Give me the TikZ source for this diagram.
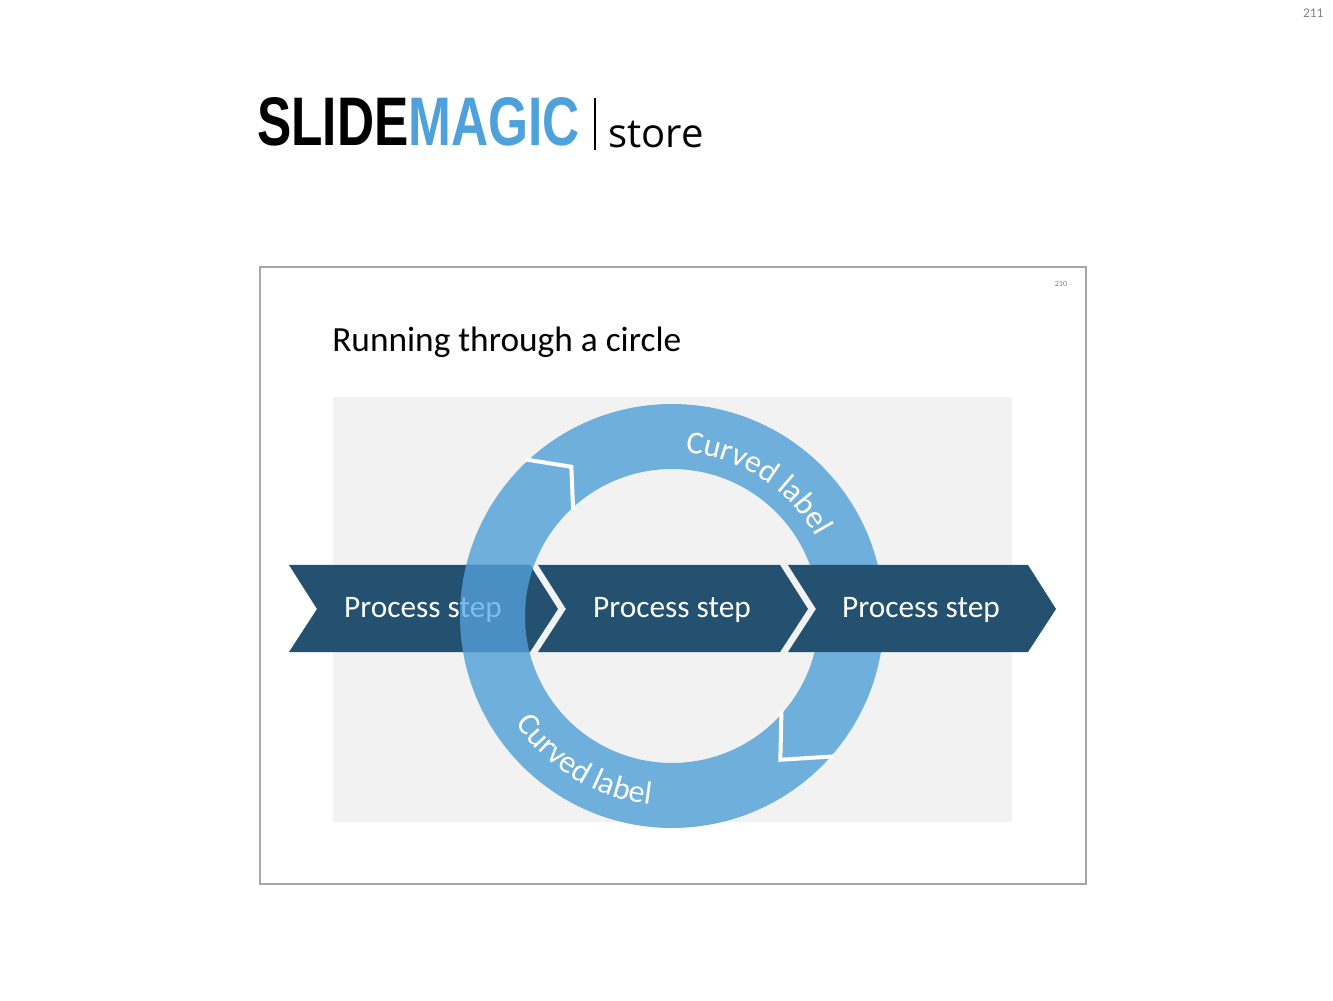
\documentclass[tikz,border=0pt]{standalone}
\usepackage{fontspec}
\setmainfont{Carlito}
\newfontfamily\logofont{Liberation Sans}
\newfontfamily\storefont{Open Sans}
\usetikzlibrary{decorations.text}
\definecolor{ring}{HTML}{6FAFDC}
\definecolor{ringover}{HTML}{57A5E0}
\definecolor{chev}{HTML}{245170}
\definecolor{logoblue}{HTML}{4EA1DB}
\definecolor{bggray}{HTML}{F2F2F2}
\definecolor{framegray}{HTML}{A6A6A6}
\newcommand{\curvefont}{\fontsize{24}{26}\selectfont}
\begin{document}
\begin{tikzpicture}[x=0.75pt,y=0.75pt,
  chevbox/.style={fill=chev},
  ringarrow/.style={fill=ring},
  gapline/.style={draw=white,line width=3pt,line join=miter},
  steplabel/.style={text=white,font=\fontsize{23.5}{26}\selectfont}]
\useasboundingbox (0,0) rectangle (1333,1000);
\fill[white] (0,0) rectangle (1333,1000);
% page number
\node[anchor=north east,text=gray,font=\fontsize{10}{12}\selectfont] (pg) at (1328,996) {211};
% logo
\node[anchor=south west,inner sep=0] (logo) at (257,854)
  {\resizebox{242pt}{36pt}{\logofont\bfseries SLIDE\textcolor{logoblue}{MAGIC}}};
\draw[line width=1.5pt] (595,850) -- (595,902);
\node[anchor=base west,inner sep=0,font=\storefont\fontsize{30}{32}\selectfont] (store) at (608,852) {store};
% slide frame
\draw[framegray,line width=1pt] (260,116) rectangle (1086,733);
\node[text=gray,font=\fontsize{6}{7}\selectfont] (pg2) at (1061,716) {210};
\node[anchor=base west,inner sep=0,font=\fontsize{26.5}{30}\selectfont] (title) at (332,648) {Running through a circle};
\fill[bggray] (333,178) rectangle (1012,603);
% ring arrows
\begin{scope}[shift={(672,384)}]
\path[ringarrow] (124:180) -- (133:212) arc[start angle=133,end angle=-41,radius=212]
  -- (-53:180) -- (-41:147) arc[start angle=-41,end angle=133,radius=147] -- cycle;
\path[ringarrow] (-53:180) -- (-41:212) arc[start angle=-41,end angle=-227,radius=212]
  -- (-236:180) -- (-227:147) arc[start angle=-227,end angle=-41,radius=147] -- cycle;
\draw[gapline] (133:214) -- (124:180) -- (133:145);
\draw[gapline] (-41:214) -- (-53:180) -- (-41:145);
\end{scope}
% chevrons
\fill[chevbox] (289,435) -- (530,435) -- (558,391) -- (530,348) -- (289,348) -- (317,391) -- cycle;
\fill[chevbox] (538,435) -- (780,435) -- (808,391) -- (780,348) -- (538,348) -- (566,391) -- cycle;
\fill[chevbox] (788,435) -- (1028,435) -- (1056,391) -- (1028,348) -- (788,348) -- (816,391) -- cycle;
\node[steplabel] (s1) at (423,390) {Process step};
\node[steplabel] (s2) at (672,390) {Process step};
\node[steplabel] (s3) at (921,390) {Process step};
% overlap of lower ring arrow over first chevron
\begin{scope}
\clip (289,435) -- (530,435) -- (558,391) -- (530,348) -- (289,348) -- (317,391) -- cycle;
\begin{scope}[shift={(672,384)}]
\fill[ringover,opacity=0.75] (-53:180) -- (-41:212) arc[start angle=-41,end angle=-227,radius=212]
  -- (-236:180) -- (-227:147) arc[start angle=-227,end angle=-41,radius=147] -- cycle;
\end{scope}
\end{scope}
% curved labels
\begin{scope}[shift={(672,384)}]
\path[decorate,decoration={text along path,text align=center,
  text={|\curvefont\color{white}|Curved label}}]
  (97:164) arc[start angle=97,end angle=17,radius=164];
\path[decorate,decoration={text along path,text align=center,
  text={|\curvefont\color{white}|Curved label}}]
  (196:190) arc[start angle=196,end angle=282,radius=190];
\end{scope}
\end{tikzpicture}
\end{document}
